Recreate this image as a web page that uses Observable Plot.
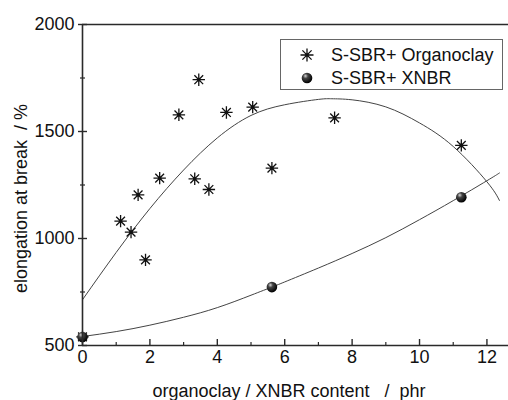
<!DOCTYPE html>
<html><head><meta charset="utf-8">
<script src="https://cdn.jsdelivr.net/npm/d3@7"></script>
<script src="https://cdn.jsdelivr.net/npm/@observablehq/plot@0.6"></script>
<style>body{margin:0;background:#fff}</style>
</head><body><div id="chart"></div>
<script>
// Measured data
const clayX = [0, 1.13, 1.44, 1.65, 1.87, 2.29, 2.86, 3.33, 3.45, 3.75, 4.27, 5.05, 5.62, 7.48, 11.24];
const clayY = [540, 1081, 1030, 1204, 900, 1282, 1578, 1279, 1742, 1229, 1589, 1614, 1329, 1564, 1435];
const xnbrX = [0, 5.62, 11.24];
const xnbrY = [540, 773, 1193];
// Fitted curves
const clayFitX = [0, 1, 2, 3, 4, 5, 6, 7, 7.4, 8, 9, 10, 11, 12, 12.37];
const clayFitY = [714, 935, 1140, 1320, 1470, 1575, 1625, 1650, 1653, 1648, 1615, 1540, 1430, 1265, 1178];
const xnbrFitX = [0, 1, 2, 3, 4, 5, 5.62, 6, 7, 8, 9, 10, 11, 12, 12.37];
const xnbrFitY = [542, 565, 595, 632, 677, 735, 773, 797, 862, 930, 1004, 1088, 1177, 1270, 1306];
// Ticks
const xMajor = [0, 2, 4, 6, 8, 10, 12];
const xMinor = [1, 3, 5, 7, 9, 11];
const yMajor = [500, 1000, 1500, 2000];
const yMinor = [750, 1250, 1750];
const seriesNames = ["S-SBR+ Organoclay", "S-SBR+ XNBR"];
const xTitle = "organoclay / XNBR content \u00a0\u00a0/\u00a0 phr";
const yTitle = "elongation at break \u00a0/ %";

const clay = clayX.map((x, i) => ({x, y: clayY[i]}));
const xnbr = xnbrX.map((x, i) => ({x, y: xnbrY[i]}));
const clayFit = clayFitX.map((x, i) => ({x, y: clayFitY[i]}));
const xnbrFit = xnbrFitX.map((x, i) => ({x, y: xnbrFitY[i]}));

const star8 = {
  draw(ctx, size) {
    const r = Math.sqrt(size) / 2;
    const d = r * Math.SQRT1_2;
    ctx.moveTo(0, -r); ctx.lineTo(0, r);
    ctx.moveTo(-r, 0); ctx.lineTo(r, 0);
    ctx.moveTo(-d, -d); ctx.lineTo(d, d);
    ctx.moveTo(-d, d); ctx.lineTo(d, -d);
  }
};

const axisColor = "#2a2a2a";
const chart = Plot.plot({
  width: 508,
  height: 400,
  marginLeft: 82,
  marginRight: 0,
  marginTop: 24,
  marginBottom: 55,
  style: {fontFamily: "'Liberation Sans', Arial, sans-serif", fontSize: "18px", color: "#111", background: "#fff"},
  x: {domain: [0, 12.64], label: null},
  y: {domain: [500, 2000], label: null},
  marks: [
    Plot.line(clayFit, {x: "x", y: "y", curve: "natural", stroke: "#444", strokeWidth: 1}),
    Plot.line(xnbrFit, {x: "x", y: "y", curve: "natural", stroke: "#444", strokeWidth: 1}),
    Plot.dot(clay, {x: "x", y: "y", symbol: star8, r: 7, stroke: "#111", strokeWidth: 1.3, fill: "none"}),
    Plot.dot(clay, {x: "x", y: "y", r: 1.6, fill: "#111"}),
    Plot.dot(xnbr, {x: "x", y: "y", r: 5.3, fill: "url(#sph)", stroke: "none"}),
    Plot.ruleY([2000], {stroke: axisColor, strokeWidth: 1.6}),
    Plot.ruleY([500], {stroke: axisColor, strokeWidth: 1.6}),
    Plot.ruleX([0], {stroke: axisColor, strokeWidth: 1.6}),
    Plot.axisX({ticks: xMajor, tickSize: 6, dy: -6, tickFormat: () => "", label: null, stroke: axisColor, strokeWidth: 1.4}),
    Plot.axisX({ticks: xMinor, tickSize: 3, dy: -3, tickFormat: () => "", label: null, stroke: axisColor, strokeWidth: 1.2}),
    Plot.axisX({ticks: xMajor, tickSize: 0, tickPadding: 5, tickFormat: "d", label: null, fontSize: 18, fill: "#111"}),
    Plot.axisY({ticks: yMajor, tickSize: 9, dx: 5, tickFormat: () => "", label: null, stroke: axisColor, strokeWidth: 1.4}),
    Plot.axisY({ticks: yMinor, tickSize: 5, dx: 3, tickFormat: () => "", label: null, stroke: axisColor, strokeWidth: 1.2}),
    Plot.axisY({ticks: yMajor, tickSize: 0, tickPadding: 8, tickFormat: "d", label: null, fontSize: 18, fill: "#111"})
  ]
});

const svg = d3.select(chart);
const defs = svg.insert("defs", ":first-child");
const g = defs.append("radialGradient").attr("id", "sph").attr("cx", "0.38").attr("cy", "0.35").attr("r", "0.65").attr("fx", "0.35").attr("fy", "0.3");
g.append("stop").attr("offset", "0").attr("stop-color", "#d8d8d8");
g.append("stop").attr("offset", "0.35").attr("stop-color", "#444");
g.append("stop").attr("offset", "1").attr("stop-color", "#000");

// Axis titles
svg.append("text").attr("x", 289).attr("y", 396.5).attr("text-anchor", "middle")
  .attr("font-size", 18).attr("fill", "#111").text(xTitle);
svg.append("text").attr("transform", "translate(27,198.5) rotate(-90)").attr("text-anchor", "middle")
  .attr("font-size", 18).attr("fill", "#111").text(yTitle);

// Legend
const leg = svg.append("g");
leg.append("rect").attr("x", 280.5).attr("y", 39.5).attr("width", 222).attr("height", 50)
  .attr("fill", "#fff").attr("stroke", "#666").attr("stroke-width", 1);
const sym = d3.symbol().type(star8).size(13 * 13)();
leg.append("path").attr("d", sym).attr("transform", "translate(307,55)").attr("stroke", "#111").attr("stroke-width", 1.3).attr("fill", "none");
leg.append("circle").attr("cx", 307).attr("cy", 55).attr("r", 1.6).attr("fill", "#111");
leg.append("circle").attr("cx", 307).attr("cy", 78).attr("r", 5.3).attr("fill", "url(#sph)");
leg.selectAll("text.l").data(seriesNames).join("text")
  .attr("x", 331).attr("y", (d, i) => 61 + i * 23).attr("text-anchor", "start")
  .attr("font-size", 18).attr("fill", "#111").text(d => d);

document.getElementById("chart").appendChild(chart);
</script>
</body></html>
